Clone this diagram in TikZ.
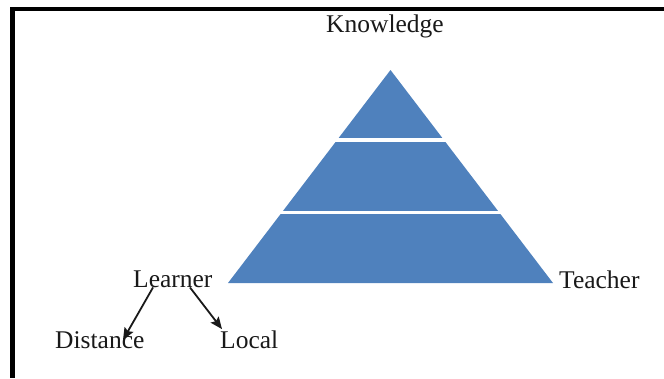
\documentclass[tikz,border=0pt]{standalone}
\usepackage{fontspec}
\setmainfont{Liberation Serif}
\usetikzlibrary{arrows.meta}
\definecolor{pyr}{HTML}{4F81BD}
\begin{document}
\begin{tikzpicture}[x=1pt,y=-1pt,
  lbl/.style={inner sep=0pt, anchor=base west, font=\fontsize{25.5}{30}\selectfont, text=black!90},
  band/.style={fill=pyr, draw=none},
  gap/.style={draw=white, line width=3.5pt},
  arr/.style={-{Stealth[length=12pt,width=10pt,inset=2pt]}, line width=1.8pt, black!90}]
\useasboundingbox (0,0) rectangle (664,378);
% frame (top and left edges)
\fill (10,7) rectangle (664,11);
\fill (10,7) rectangle (15,378);
% pyramid
\fill[band] (390.5,70) -- (553,283) -- (228,283) -- cycle;
\draw[gap] (320,140) -- (460,140);
\draw[gap] (260,212.5) -- (520,212.5);
% labels
\node[lbl] (knowledge) at (326,32) {Knowledge};
\node[lbl] (teacher) at (559,288) {Teacher};
\node[lbl] (learner) at (133,287) {Learner};
\node[lbl] (distance) at (55,348) {Distance};
\node[lbl] (local) at (220,348) {Local};
% arrows
\draw[arr] ([xshift=20pt]learner.south west) -- ([xshift=68pt,yshift=-9pt]distance.north west);
\draw[arr] ([xshift=57pt]learner.south west) -- ([xshift=2pt,yshift=1pt]local.north west);
\end{tikzpicture}
\end{document}
